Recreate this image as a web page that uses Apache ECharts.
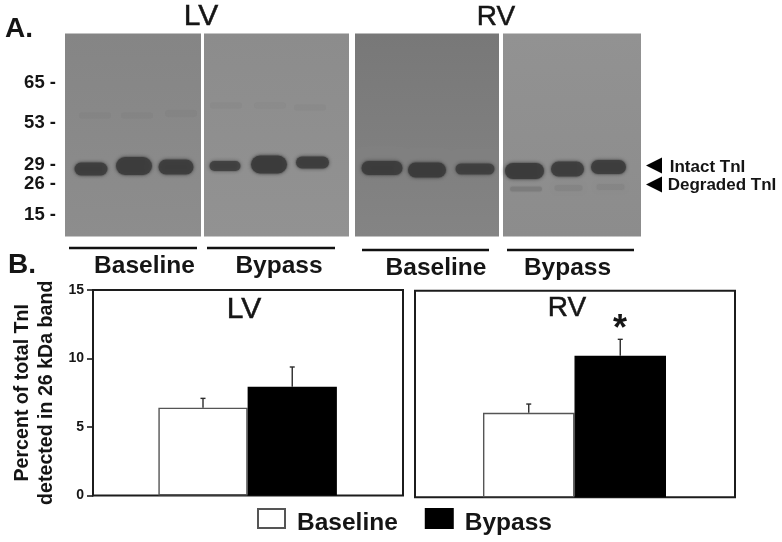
<!DOCTYPE html>
<html>
<head>
<meta charset="utf-8">
<style>
  html, body { margin: 0; padding: 0; background: #fff; }
  #chart { width: 782px; height: 542px; filter: blur(0.35px); }
</style>
</head>
<body>
<div id="chart"></div>
<script src="https://cdn.jsdelivr.net/npm/echarts@6/dist/echarts.min.js"></script>
<script>
// group names
const groups = ['Baseline', 'Bypass']

// panel B, percent of total TnI in the 26 kDa band
const lvMeans = [6.41, 7.94]
const lvUpper = [7.09, 9.38]
const rvMeans = [6.14, 10.28]
const rvUpper = [6.77, 11.47]

// panel A ladder
const ladderKDa = [65, 53, 29, 26, 15]
const ladderDistance = [49, 89, 131.5, 150.5, 181.5]

// blot bands: lane centre, migration distance, width, thickness, darkness
const lvBaselineBands = [
  [26, 135.5, 35, 13, 0.85], [69, 132.5, 38, 18, 0.88], [111, 133.5, 37, 15, 0.86],
  [30, 82, 34, 6, 0.03], [72, 82, 34, 6, 0.025], [116, 80, 34, 7, 0.035]
]
const lvBypassBands = [
  [21, 132.5, 33, 10, 0.8], [65, 131, 38, 18, 0.9], [108.5, 129, 35, 12, 0.86],
  [22, 72, 34, 6, 0.03], [66, 72, 34, 6, 0.02], [106, 74, 34, 6, 0.03]
]
const rvBaselineBands = [
  [27, 134.5, 43, 14, 0.88], [72, 136.5, 40, 15, 0.9], [120, 135.5, 41, 11, 0.8]
]
const rvBypassBands = [
  [21.5, 137.5, 41, 16, 0.9], [64.5, 135.5, 35, 15, 0.86], [105.5, 133.5, 37, 14, 0.86],
  [23, 155.5, 34, 5, 0.16], [65.5, 154.5, 30, 6, 0.06], [107.5, 153.5, 30, 6, 0.07]
]

const darkInk = '#151515'

function renderBand (params, api) {
  const c = api.coord([api.value(0), api.value(1)])
  const s = api.size([api.value(2), api.value(3)])
  const k = api.value(4)
  const w = s[0]
  const h = s[1]
  const fill = 'rgba(58,58,58,' + k + ')'
  const haze = 'rgba(58,58,58,' + (k * 0.16) + ')'
  return {
    type: 'group',
    children: [
      {
        type: 'rect',
        shape: { x: c[0] - w / 2, y: c[1] - h / 2 - 1, width: w, height: h + 2, r: h / 2 + 1 },
        style: { fill: haze, shadowBlur: 12, shadowColor: haze }
      },
      {
        type: 'rect',
        shape: { x: c[0] - w / 2 + 1, y: c[1] - h / 2, width: w - 2, height: h, r: h / 2 },
        style: { fill: fill, shadowBlur: 4, shadowColor: fill }
      }
    ]
  }
}

function renderErrorBar (params, api) {
  const x = api.value(0)
  const low = api.coord([x, api.value(1)])
  const high = api.coord([x, api.value(2)])
  const lineStyle = { stroke: '#2b2b2b', lineWidth: 1.4 }
  return {
    type: 'group',
    children: [
      { type: 'line', shape: { x1: low[0], y1: low[1], x2: high[0], y2: high[1] }, style: lineStyle },
      { type: 'line', shape: { x1: high[0] - 2.5, y1: high[1], x2: high[0] + 2.5, y2: high[1] }, style: lineStyle }
    ]
  }
}

function membrane (left, width, top, height, fromColor, toColor) {
  return {
    left: left,
    top: top,
    width: width,
    height: height,
    show: true,
    borderWidth: 0,
    outerBoundsMode: 'none',
    backgroundColor: {
      type: 'linear', x: 0, y: 0, x2: 0, y2: 1,
      colorStops: [{ offset: 0, color: fromColor }, { offset: 1, color: toColor }]
    }
  }
}

function frame (left, width, top, height) {
  return {
    left: left,
    top: top,
    width: width,
    height: height,
    show: true,
    borderColor: '#1c1c1c',
    borderWidth: 2,
    backgroundColor: '#fff',
    outerBoundsMode: 'none'
  }
}

function hiddenX (gridIndex, min, max) {
  return { type: 'value', gridIndex: gridIndex, min: min, max: max, show: false, splitLine: { show: false } }
}

function hiddenY (gridIndex, min, max, inverse) {
  return { type: 'value', gridIndex: gridIndex, min: min, max: max, inverse: inverse, show: false, splitLine: { show: false } }
}

function bandSeries (gridIndex, bands) {
  return {
    type: 'custom',
    xAxisIndex: gridIndex,
    yAxisIndex: gridIndex,
    data: bands,
    silent: true,
    renderItem: renderBand
  }
}

function barSeries (gridIndex, name, x, value, color, barWidth) {
  return {
    type: 'bar',
    name: name,
    xAxisIndex: gridIndex,
    yAxisIndex: gridIndex,
    barWidth: barWidth,
    barGap: '-100%',
    data: [[x, value]],
    itemStyle: { color: color, borderColor: color === '#000' ? '#000' : '#555', borderWidth: 1.4 }
  }
}

function errorSeries (gridIndex, means, upper) {
  return {
    type: 'custom',
    xAxisIndex: gridIndex,
    yAxisIndex: gridIndex,
    z: 5,
    data: means.map((m, i) => [i, m, upper[i]]),
    renderItem: renderErrorBar
  }
}

function label (text, x, y, size, bold, heavy) {
  return {
    type: 'text',
    x: x,
    y: y,
    style: {
      text: text,
      fill: darkInk,
      stroke: heavy ? darkInk : null,
      lineWidth: heavy ? 0.5 : 0,
      font: (bold ? 'bold ' : '') + size + 'px "Liberation Sans", Arial, sans-serif',
      textAlign: 'center',
      textVerticalAlign: 'middle'
    }
  }
}

function rule (x1, x2, y) {
  return { type: 'line', shape: { x1: x1, y1: y, x2: x2, y2: y }, style: { stroke: '#111', lineWidth: 2.4 } }
}

function arrowHead (x1, x2, y) {
  return { type: 'polygon', shape: { points: [[x1, y], [x2, y - 8], [x2, y + 8]] }, style: { fill: '#000' } }
}

const option = {
  backgroundColor: '#fff',
  animation: false,
  textStyle: { fontFamily: '"Liberation Sans", Arial, sans-serif' },
  legend: {
    left: 257,
    top: 508,
    padding: 0,
    itemWidth: 27,
    itemHeight: 19,
    itemGap: 27,
    icon: 'rect',
    selectedMode: false,
    data: groups,
    formatter: name => '{a|' + name + '}',
    textStyle: {
      color: darkInk,
      padding: [0, 0, 0, 7],
      rich: {
        a: { fontSize: 24.5, fontWeight: 'bold', color: darkInk, padding: [9, 0, 0, 0] }
      }
    }
  },
  grid: [
    membrane(65, 136, 33.5, 203, '#858585', '#8d8d8d'),
    membrane(204, 145, 33.5, 203, '#8c8c8c', '#929292'),
    membrane(355, 144, 33.5, 203, '#787878', '#848484'),
    membrane(503, 138, 33.5, 203, '#929292', '#8c8c8c'),
    frame(93, 310, 290, 205.5),
    frame(415, 320, 290.7, 206.6)
  ],
  xAxis: [
    hiddenX(0, 0, 136),
    hiddenX(1, 0, 145),
    hiddenX(2, 0, 144),
    hiddenX(3, 0, 138),
    hiddenX(4, -1.2325, 2.241),
    hiddenX(5, -1.243, 2.254)
  ],
  yAxis: [
    {
      type: 'value',
      gridIndex: 0,
      min: 0,
      max: 203,
      inverse: true,
      splitLine: { show: false },
      axisLine: { show: false, onZero: false },
      axisTick: { show: false },
      axisLabel: {
        customValues: ladderDistance,
        margin: 9,
        fontSize: 18.5,
        fontWeight: 'bold',
        color: darkInk,
        formatter: v => ladderKDa[ladderDistance.indexOf(v)] + ' -'
      }
    },
    hiddenY(1, 0, 203, true),
    hiddenY(2, 0, 203, true),
    hiddenY(3, 0, 203, true),
    {
      type: 'value',
      gridIndex: 4,
      min: 0,
      max: 15,
      interval: 5,
      name: 'Percent of total TnI\ndetected in 26 kDa band',
      nameLocation: 'middle',
      nameGap: 34,
      nameRotate: 90,
      nameTextStyle: { fontSize: 19.6, fontWeight: 'bold', color: darkInk, lineHeight: 24 },
      splitLine: { show: false },
      axisLine: { show: true, onZero: false, lineStyle: { color: '#1c1c1c', width: 2 } },
      axisTick: { show: true, length: 6, lineStyle: { color: '#1c1c1c', width: 1.6 } },
      axisLabel: {
        margin: 9,
        fontSize: 14,
        fontWeight: 'bold',
        color: darkInk
      }
    },
    hiddenY(5, 0, 15, false)
  ],
  series: [
    bandSeries(0, lvBaselineBands),
    bandSeries(1, lvBypassBands),
    bandSeries(2, rvBaselineBands),
    bandSeries(3, rvBypassBands),
    barSeries(4, groups[0], 0, lvMeans[0], '#fff', 89.25),
    barSeries(4, groups[1], 1, lvMeans[1], '#000', 89.25),
    errorSeries(4, lvMeans, lvUpper),
    barSeries(5, groups[0], 0, rvMeans[0], '#fff', 91.5),
    barSeries(5, groups[1], 1, rvMeans[1], '#000', 91.5),
    errorSeries(5, rvMeans, rvUpper)
  ],
  graphic: [
    label('A.', 19, 29, 28, true),
    label('B.', 22, 265, 28, true),
    label('LV', 201, 17, 30, false, true),
    label('RV', 496, 17, 28, false, true),
    label('LV', 244, 310, 30, false, true),
    label('RV', 567, 308, 28, false, true),
    label('*', 620, 330, 36, true),
    rule(69, 197, 248),
    rule(207, 335, 248),
    rule(362, 489, 250),
    rule(507, 634, 250),
    label(groups[0], 144.5, 266, 24.5, true),
    label(groups[1], 279, 266, 24.5, true),
    label(groups[0], 436, 268, 24.5, true),
    label(groups[1], 567.5, 268, 24.5, true),
    arrowHead(646, 662, 165.5),
    arrowHead(646, 662, 184.5),
    label('Intact TnI', 707.5, 167, 17, true),
    label('Degraded TnI', 722, 185.5, 17, true)
  ]
}

const chart = echarts.init(document.getElementById('chart'), null, { renderer: 'canvas' })
chart.setOption(option)
</script>
</body>
</html>
